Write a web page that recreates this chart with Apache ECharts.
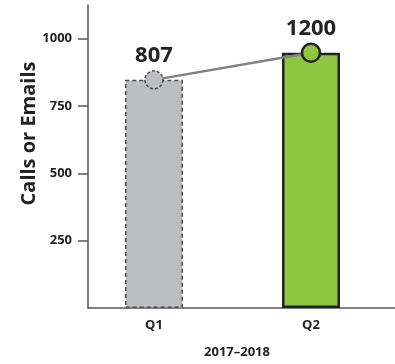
<!DOCTYPE html>
<html>
<head>
<meta charset="utf-8">
<script src="https://cdn.jsdelivr.net/npm/echarts@6/dist/echarts.min.js"></script>
<style>html,body{margin:0;padding:0;background:#fff}#c{width:395px;height:364px}</style>
</head>
<body>
<div id="c"></div>
<script>
const categories = ['Q1', 'Q2'];
const barValues = [847, 948];
const pointValues = [847, 948];
const pointLabels = ['807', '1200'];
const yTicks = [250, 500, 750, 1000];
const yAxisName = 'Calls or Emails';
const xAxisName = '2017–2018';

const FONT = '"Open Sans", sans-serif';
const chart = echarts.init(document.getElementById('c'), null, {renderer: 'canvas'});

const barStyles = [
  {color: '#bdbec2', borderColor: '#4a4a4a', borderWidth: 1.5, borderType: [4, 3]},
  {color: '#8dc63f', borderColor: '#222222', borderWidth: 2.5, borderType: 'solid'}
];
const pointStyles = [
  {color: '#bdbec2', borderColor: '#4a4a4a', borderWidth: 1.5, borderType: [3, 2]},
  {color: '#8dc63f', borderColor: '#222222', borderWidth: 2.5, borderType: 'solid'}
];

chart.setOption({
  animation: false,
  grid: {left: 88, right: 0, top: 5, bottom: 55},
  xAxis: {
    type: 'value',
    min: -0.42,
    max: 1.535,
    splitLine: {show: false},
    axisLine: {show: true, onZero: false, lineStyle: {color: '#555', width: 1.5}},
    axisTick: {show: false},
    axisLabel: {
      customValues: categories.map((c, i) => i),
      formatter: v => categories[v] ?? '',
      color: '#222', fontWeight: 'bold', fontSize: 13, fontFamily: FONT, margin: 11
    },
    name: xAxisName,
    nameLocation: 'middle',
    nameGap: 38,
    nameMoveOverlap: false,
    nameTextStyle: {color: '#222', fontWeight: 'bold', fontSize: 13, fontFamily: FONT, padding: [0, 9, 0, 0]}
  },
  yAxis: {
    type: 'value',
    min: 0,
    max: 1125,
    interval: 250,
    splitLine: {show: false},
    axisLine: {show: true, onZero: false, lineStyle: {color: '#555', width: 1.5}},
    axisTick: {show: true, customValues: yTicks, length: 10, lineStyle: {color: '#555', width: 1.5}},
    axisLabel: {
      customValues: yTicks,
      formatter: v => String(v),
      color: '#222', fontWeight: 'bold', fontSize: 13, fontFamily: FONT, margin: 16
    },
    name: yAxisName,
    nameLocation: 'middle',
    nameGap: 49,
    nameMoveOverlap: false,
    nameTextStyle: {color: '#222', fontWeight: 'bold', fontSize: 20, fontFamily: FONT, padding: [0, 0, 0, 46]}
  },
  series: [
    {
      type: 'bar',
      barWidth: 58,
      data: barValues.map((v, i) => ({value: [i, v], itemStyle: barStyles[i]})),
      z: 2
    },
    {
      type: 'line',
      symbol: 'circle',
      symbolSize: 18,
      lineStyle: {color: '#808080', width: 2.5},
      data: pointValues.map((v, i) => ({value: [i, v], itemStyle: pointStyles[i]})),
      label: {
        show: true,
        position: 'top',
        distance: 3,
        formatter: p => pointLabels[p.dataIndex],
        color: '#222', fontWeight: 'bold', fontSize: 22, fontFamily: FONT
      },
      z: 3
    }
  ]
});
</script>
</body>
</html>
